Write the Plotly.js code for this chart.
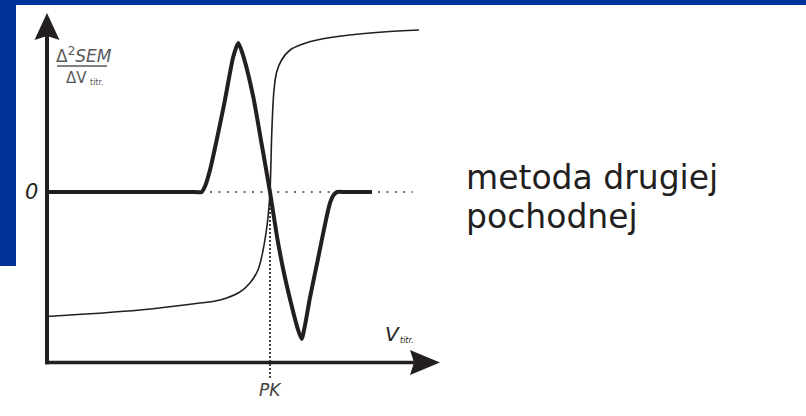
<!DOCTYPE html>
<html>
<head>
<meta charset="utf-8">
<script src="https://cdn.plot.ly/plotly-3.0.1.min.js"></script>
<style>
  html, body { margin: 0; padding: 0; background: #ffffff; }
  #chart { width: 806px; height: 416px; }
</style>
</head>
<body>
<div id="chart"></div>
<script>
// Titrant volume (arbitrary units, end point PK at 10) and the second derivative of the potential
const vSecond = [0, 6.64, 6.94, 7.09, 7.31, 7.61, 7.98, 8.35, 8.58, 8.83, 9.25, 9.64, 10, 10.31, 10.58, 10.94, 11.26, 11.42, 11.57, 11.79, 12.15, 12.47, 12.69, 12.87, 13.01, 13.36, 14.57];
const d2Sem = [0, 0, 0, 0.04, 0.148, 0.349, 0.617, 0.906, 1, 0.899, 0.638, 0.309, 0, -0.295, -0.51, -0.745, -0.926, -0.987, -0.893, -0.711, -0.45, -0.215, -0.074, -0.017, 0, 0, 0];

// Titration curve: potential (mV) against titrant volume
const vCurve = [0, 4.17, 6.86, 7.76, 8.65, 9.10, 9.46, 9.69, 9.87, 9.96, 10.0, 10.04, 10.08, 10.18, 10.30, 10.52, 10.90, 11.48, 12.11, 13.59, 15.07, 16.68];
const semCurve = [92, 105, 119, 125, 141, 159, 185, 225, 275, 315, 341, 395, 459, 545, 581, 605, 625, 637, 645, 655, 661, 665];

// Zero reference and end-point marker
const zeroLineV = [7.31, 16.41];
const endPointV = 10;
const endPointD2 = [0, -1.248];

// Text
const yLabelTop = 'Δ<sup>2</sup><i>SEM</i>';
const yLabelBottom = 'ΔV';
const volumeSub = 'titr.';
const xLabel = '<i>V</i>';
const pkLabel = '<i>PK</i>';
const zeroLabel = '<i>0</i>';
const sideLine1 = 'metoda drugiej';
const sideLine2 = 'pochodnej';

const ink = '#231f20';
const gray = '#58595b';
const frameBlue = '#003399';

// axis geometry in data units
const xRange = [-2.1076, 34.036];
const yRange = [-1.5034, 1.2886];
const y2Range = [-107, 725];
const yBase = -1.1443;   // level of the horizontal (volume) axis
const yTip = 1.2013;     // tip of the vertical arrow
const xTip = 17.623;     // tip of the horizontal arrow

const traces = [
  { x: zeroLineV, y: [0, 0], mode: 'lines', hoverinfo: 'skip',
    line: { color: '#6d6e71', width: 2, dash: '2px,6.4px' } },
  { x: [endPointV, endPointV], y: endPointD2, mode: 'lines', hoverinfo: 'skip',
    line: { color: '#414042', width: 2, dash: '2px,2px' } },
  { x: vCurve, y: semCurve, yaxis: 'y2', mode: 'lines', hoverinfo: 'skip',
    line: { color: ink, width: 1.6, shape: 'spline', smoothing: 1 } },
  { x: vSecond, y: d2Sem, mode: 'lines', hoverinfo: 'skip',
    line: { color: ink, width: 4, shape: 'spline', smoothing: 0.6 } }
];

const hidden = { visible: false, showgrid: false, zeroline: false, fixedrange: true };

function label(x, y, text, size, color, opts) {
  return Object.assign({ x: x, y: y, xref: 'x', yref: 'y', text: text, showarrow: false,
    xanchor: 'center', yanchor: 'middle', font: { size: size, color: color } }, opts || {});
}

const layout = {
  width: 806, height: 416,
  margin: { l: 0, r: 0, t: 0, b: 0, pad: 0 },
  paper_bgcolor: '#ffffff', plot_bgcolor: '#ffffff',
  showlegend: false,
  font: { family: 'DejaVu Sans, Verdana, sans-serif', color: ink },
  xaxis: Object.assign({ range: xRange }, hidden),
  yaxis: Object.assign({ range: yRange }, hidden),
  yaxis2: Object.assign({ range: y2Range, overlaying: 'y', side: 'right' }, hidden),
  shapes: [
    // frame
    { type: 'rect', xref: 'paper', yref: 'paper', x0: 0, x1: 1, y0: 1 - 5 / 416, y1: 1,
      fillcolor: frameBlue, line: { width: 0 }, layer: 'below' },
    { type: 'rect', xref: 'paper', yref: 'paper', x0: 0, x1: 16 / 806, y0: 1 - 266 / 416, y1: 1,
      fillcolor: frameBlue, line: { width: 0 }, layer: 'below' },
    // axes
    { type: 'line', xref: 'x', yref: 'y', x0: 0, x1: 0, y0: yBase - 0.012, y1: yTip - 0.12,
      line: { color: ink, width: 4 } },
    { type: 'line', xref: 'x', yref: 'y', x0: -0.09, x1: xTip - 0.8, y0: yBase, y1: yBase,
      line: { color: ink, width: 3.5 } },
    { type: 'path', xref: 'x', yref: 'y', xsizemode: 'pixel', ysizemode: 'pixel',
      xanchor: 0, yanchor: yTip, path: 'M0,0 L-12.5,-27 L0,-23 L12.5,-27 Z',
      fillcolor: ink, line: { width: 0 } },
    { type: 'path', xref: 'x', yref: 'y', xsizemode: 'pixel', ysizemode: 'pixel',
      xanchor: xTip, yanchor: yBase, path: 'M0,0 L-30,12.5 L-26,0 L-30,-12.5 Z',
      fillcolor: ink, line: { width: 0 } },
    // fraction bar of the y label
    { type: 'line', xref: 'x', yref: 'y', x0: 0.45, x1: 2.69, y0: 0.8456, y1: 0.8456,
      line: { color: gray, width: 1.5 } }
  ],
  annotations: [
    label(1.66, 0.922, yLabelTop, 17, gray),
    label(1.88, 0.768, yLabelBottom, 15, gray, { xanchor: 'right' }),
    label(1.82, 0.733, volumeSub, 8, gray, { xanchor: 'left' }),
    label(0, 0, zeroLabel, 21, ink, { xanchor: 'right', xshift: -7 }),
    label(endPointV, yBase, pkLabel, 17, '#414042', { yshift: -27 }),
    label(15.05, -0.95, xLabel, 20, ink, { xanchor: 'left' }),
    label(15.76, -1.0, '<i>' + volumeSub + '</i>', 8, ink, { xanchor: 'left' }),
    label(18.72, 0.0966, sideLine1, 33, ink, { xanchor: 'left' }),
    label(18.72, -0.165, sideLine2, 33, ink, { xanchor: 'left' })
  ]
};

Plotly.newPlot('chart', traces, layout, { staticPlot: true, displayModeBar: false });
</script>
</body>
</html>
